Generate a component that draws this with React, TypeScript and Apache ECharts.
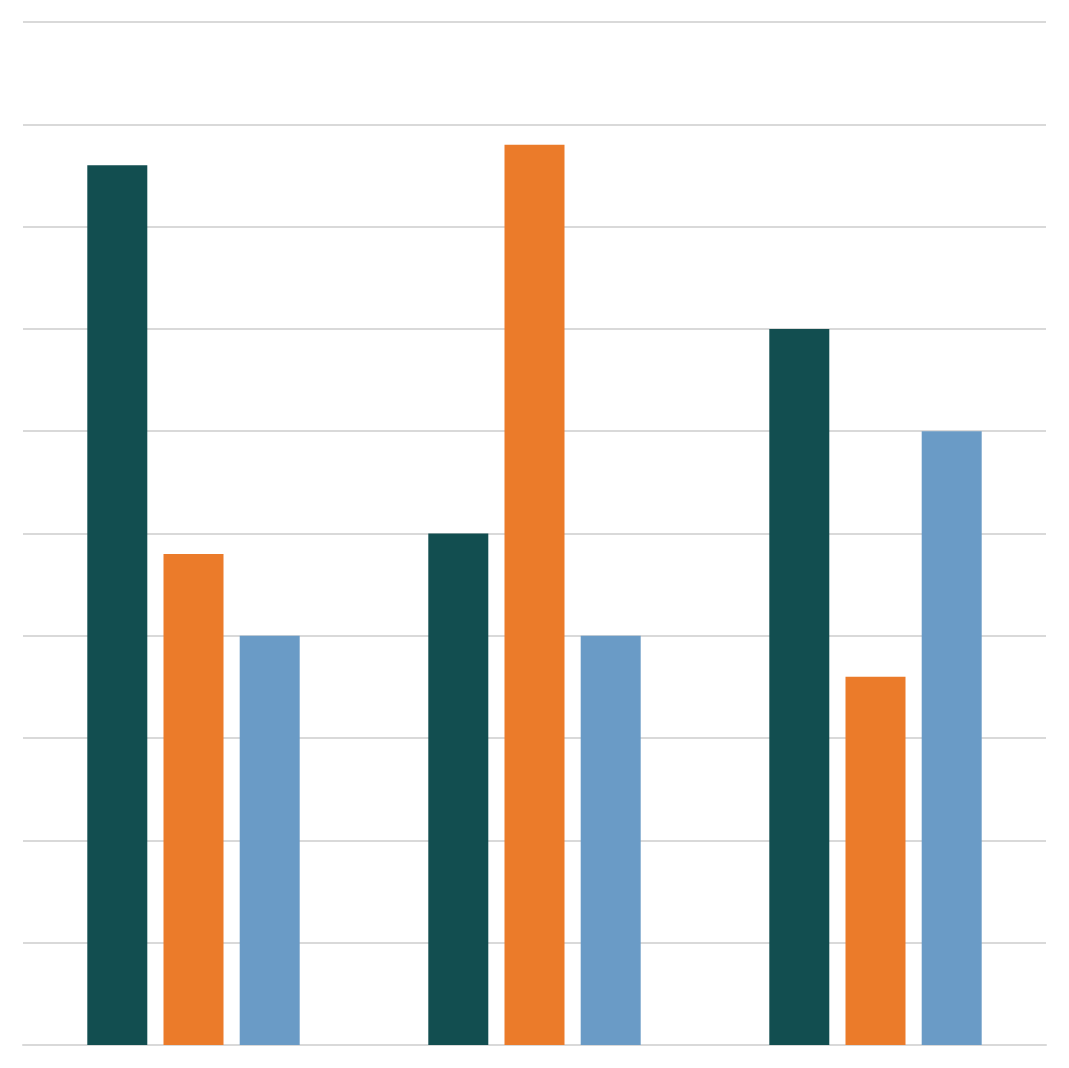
import { useEffect, useRef } from 'react';
import * as echarts from 'echarts';

const categories = ['A', 'B', 'C'];
const seriesNames = ['Series 1', 'Series 2', 'Series 3'];
const series1 = [8.6, 5.0, 7.0];
const series2 = [4.8, 8.8, 3.6];
const series3 = [4.0, 4.0, 6.0];
const colors = ['#124e50', '#eb7b2a', '#6a9bc6'];

export default function App() {
  const chartRef = useRef<HTMLDivElement>(null);

  useEffect(() => {
    if (!chartRef.current) return;
    const chart = echarts.init(chartRef.current, null, { renderer: 'svg' });

    const option: echarts.EChartsOption = {
      animation: false,
      grid: { left: 15, right: 15, top: 14, bottom: 15, containLabel: false },
      xAxis: {
        type: 'category',
        data: categories,
        axisLine: { show: true, lineStyle: { color: '#d9d9d9', width: 2 } },
        axisTick: { show: false },
        axisLabel: { show: false },
        z: 0,
      },
      yAxis: {
        type: 'value',
        min: 0,
        max: 10,
        interval: 1,
        axisLine: { show: false },
        axisTick: { show: false },
        axisLabel: { show: false },
        splitLine: { lineStyle: { color: '#d9d9d9', width: 2 } },
        z: 0,
      },
      series: [series1, series2, series3].map((data, i) => ({
        name: seriesNames[i],
        type: 'bar' as const,
        data,
        barWidth: 60,
        barGap: '27%',
        z: 5,
        itemStyle: { color: colors[i] },
      })),
    };

    chart.setOption(option);
    return () => chart.dispose();
  }, []);

  return <div ref={chartRef} style={{ width: '100%', height: 1052 }} />;
}
